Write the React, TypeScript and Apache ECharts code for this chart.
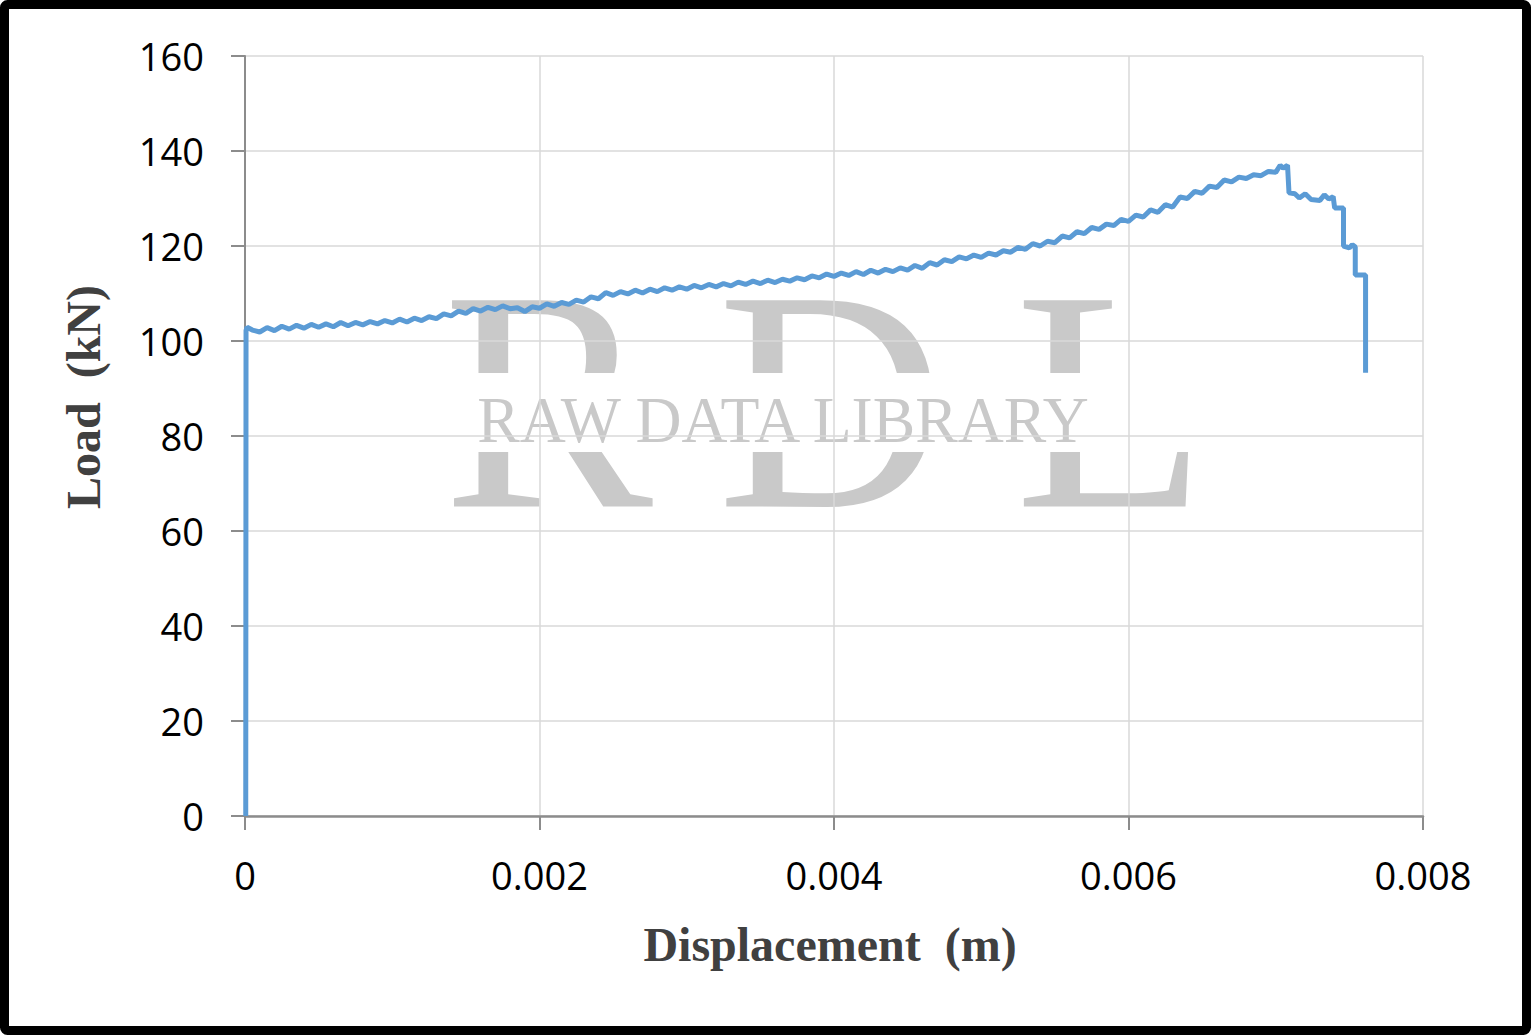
import React, { useEffect, useRef } from "react";
import * as echarts from "echarts";

// Displacement (m) / Load (kN) pairs
const elasticRise: [number, number][] = [
  [0.000005, 0],
  [0.000007, 102.2],
  [0.000014, 102.9],
];

const hardeningBranch: [number, number][] = [
  [0.00005, 102.3], [0.0001, 101.9], [0.00015, 102.8], [0.0002, 102.2],
  [0.00025, 103.1], [0.0003, 102.5], [0.00035, 103.3], [0.0004, 102.7],
  [0.00045, 103.5], [0.0005, 102.9], [0.00055, 103.6], [0.0006, 103.0],
  [0.00065, 103.9], [0.0007, 103.2], [0.00075, 103.9], [0.0008, 103.4],
  [0.00085, 104.1], [0.0009, 103.6], [0.00095, 104.3], [0.001, 103.8],
  [0.00105, 104.6], [0.0011, 104.0], [0.00115, 104.8], [0.0012, 104.3],
  [0.00125, 105.1], [0.0013, 104.7], [0.00135, 105.7], [0.0014, 105.3],
  [0.00145, 106.3], [0.0015, 105.8], [0.00155, 106.8], [0.0016, 106.3],
  [0.00165, 107.1], [0.0017, 106.6], [0.00175, 107.4], [0.0018, 106.8],
  [0.00185, 107.0], [0.0019, 106.2], [0.00195, 107.2], [0.002, 106.9],
  [0.00205, 107.8], [0.0021, 107.3], [0.00215, 108.1], [0.0022, 107.7],
  [0.00225, 108.6], [0.0023, 108.2], [0.00235, 109.3], [0.0024, 108.9],
  [0.00245, 110.2], [0.0025, 109.6], [0.00255, 110.4], [0.0026, 109.9],
  [0.00265, 110.7], [0.0027, 110.1], [0.00275, 110.9], [0.0028, 110.4],
  [0.00285, 111.2], [0.0029, 110.7], [0.00295, 111.4], [0.003, 110.9],
  [0.00305, 111.7], [0.0031, 111.2], [0.00315, 111.9], [0.0032, 111.4],
  [0.00325, 112.1], [0.0033, 111.6], [0.00335, 112.4], [0.0034, 111.9],
  [0.00345, 112.6], [0.0035, 112.1], [0.00355, 112.8], [0.0036, 112.3],
  [0.00365, 113.0], [0.0037, 112.6], [0.00375, 113.3], [0.0038, 112.9],
  [0.00385, 113.7], [0.0039, 113.3], [0.00395, 114.1], [0.004, 113.6],
  [0.00405, 114.3], [0.0041, 113.8], [0.00415, 114.6], [0.0042, 114.0],
  [0.00425, 114.9], [0.0043, 114.3], [0.00435, 115.1], [0.0044, 114.6],
  [0.00445, 115.4], [0.0045, 114.9], [0.00455, 115.9], [0.0046, 115.3],
  [0.00465, 116.5], [0.0047, 116.0], [0.00475, 117.1], [0.0048, 116.7],
  [0.00485, 117.7], [0.0049, 117.3], [0.00495, 118.1], [0.005, 117.6],
  [0.00505, 118.5], [0.0051, 118.1], [0.00515, 119.0], [0.0052, 118.7],
  [0.00525, 119.7], [0.0053, 119.3], [0.00535, 120.5], [0.0054, 120.0],
  [0.00545, 121.0], [0.0055, 120.7], [0.00555, 122.1], [0.0056, 121.7],
  [0.00565, 123.0], [0.0057, 122.6], [0.00575, 123.9], [0.0058, 123.5],
  [0.00585, 124.6], [0.0059, 124.3], [0.00595, 125.6], [0.006, 125.2],
  [0.00605, 126.5], [0.0061, 126.1], [0.00615, 127.6], [0.0062, 127.1],
  [0.00625, 128.7], [0.0063, 128.2], [0.00635, 130.3], [0.0064, 130.0],
  [0.00645, 131.5], [0.0065, 131.1], [0.00655, 132.6], [0.0066, 132.3],
  [0.00665, 133.9], [0.0067, 133.5], [0.00675, 134.5], [0.0068, 134.2],
  [0.00685, 135.0], [0.0069, 134.8], [0.00695, 135.7], [0.007, 135.5],
];

const peakAndFailure: [number, number][] = [
  [0.00703, 137.0], [0.00705, 136.4], [0.00708, 137.0], [0.00709, 131.2],
  [0.00713, 131.0], [0.00716, 130.1], [0.0072, 131.0], [0.00724, 129.8],
  [0.0073, 129.6], [0.00733, 130.8], [0.00736, 129.9], [0.00739, 130.4],
  [0.0074, 128.0], [0.00746, 128.0], [0.00746, 120.0], [0.0075, 119.6],
  [0.00752, 120.3], [0.00754, 119.8], [0.00754, 113.9], [0.00761, 113.9],
  [0.00761, 93.3],
];

const xAxisRange = { min: 0, max: 0.008, interval: 0.002 };
const yAxisRange = { min: 0, max: 160, interval: 20 };

const xTitle = "Displacement  (m)";
const yTitle = "Load  (kN)";
const watermarkLetters = ["R", "D", "L"];
const watermarkText = "RAW DATA LIBRARY";

export default function App() {
  const ref = useRef<HTMLDivElement>(null);

  useEffect(() => {
    if (!ref.current) return;
    const chart = echarts.init(ref.current, undefined, { renderer: "svg" });
    const data = [...elasticRise, ...hardeningBranch, ...peakAndFailure];
    const letterX = [548, 831, 1111];

    const tickFont = { fontFamily: "Open Sans", fontSize: 38, color: "#000" };

    chart.setOption({
      animation: false,
      backgroundColor: "#ffffff",
      grid: {
        left: 245,
        right: 108,
        top: 56,
        bottom: 219,
        containLabel: false,
        outerBoundsMode: "none",
      },
      xAxis: {
        type: "value",
        min: xAxisRange.min,
        max: xAxisRange.max,
        interval: xAxisRange.interval,
        axisLine: { show: true, lineStyle: { color: "#8c8c8c", width: 2.5 } },
        axisTick: { show: true, length: 14, lineStyle: { color: "#8c8c8c", width: 2 } },
        splitLine: { show: true, lineStyle: { color: "#d9d9d9", width: 1.5 } },
        axisLabel: {
          ...tickFont,
          margin: 40,
          formatter: (v: number) => (v === 0 ? "0" : v.toFixed(3)),
        },
      },
      yAxis: {
        type: "value",
        min: yAxisRange.min,
        max: yAxisRange.max,
        interval: yAxisRange.interval,
        axisLine: { show: true, lineStyle: { color: "#8c8c8c", width: 2 } },
        axisTick: { show: true, length: 14, lineStyle: { color: "#8c8c8c", width: 2 } },
        splitLine: { show: true, lineStyle: { color: "#d9d9d9", width: 1.5 } },
        axisLabel: { ...tickFont, margin: 41 },
      },
      series: [
        {
          type: "line",
          data,
          showSymbol: false,
          symbol: "none",
          lineStyle: { color: "#5b9bd5", width: 5 },
          z: 3,
        },
      ],
      graphic: [
        ...watermarkLetters.map((t, i) => ({
          type: "text",
          x: letterX[i],
          y: 400,
          z: -1,
          silent: true,
          style: {
            text: t,
            fill: "#c9c9c9",
            font: 'normal 315px "Liberation Serif"',
            align: "center",
            verticalAlign: "middle",
            textAlign: "center",
            textVerticalAlign: "middle",
          },
        })),
        {
          type: "rect",
          z: -1,
          silent: true,
          shape: { x: 430, y: 373, width: 790, height: 79 },
          style: { fill: "#ffffff" },
        },
        {
          type: "text",
          x: 783,
          y: 420,
          z: -1,
          scaleX: 0.98,
          silent: true,
          style: {
            text: watermarkText,
            fill: "#c9c9c9",
            font: 'normal 65px "Liberation Serif"',
            align: "center",
            verticalAlign: "middle",
            textAlign: "center",
            textVerticalAlign: "middle",
          },
        },
        {
          type: "text",
          x: 83,
          y: 397,
          rotation: Math.PI / 2,
          style: {
            text: yTitle,
            fill: "#404040",
            font: 'bold 48px "Liberation Serif"',
            align: "center",
            verticalAlign: "middle",
            textAlign: "center",
            textVerticalAlign: "middle",
          },
        },
        {
          type: "text",
          x: 830,
          y: 944,
          style: {
            text: xTitle,
            fill: "#404040",
            font: 'bold 48px "Liberation Serif"',
            align: "center",
            verticalAlign: "middle",
            textAlign: "center",
            textVerticalAlign: "middle",
          },
        },
        {
          type: "rect",
          z: 100,
          silent: true,
          shape: { x: 4.5, y: 4.5, width: 1522, height: 1026, r: 3 },
          style: { fill: "none", stroke: "#000", lineWidth: 9 },
        },
      ],
    });

    return () => chart.dispose();
  }, []);

  return (
    <div
      ref={ref}
      style={{ position: "absolute", left: 0, top: 0, width: 1531, height: 1035 }}
    />
  );
}
